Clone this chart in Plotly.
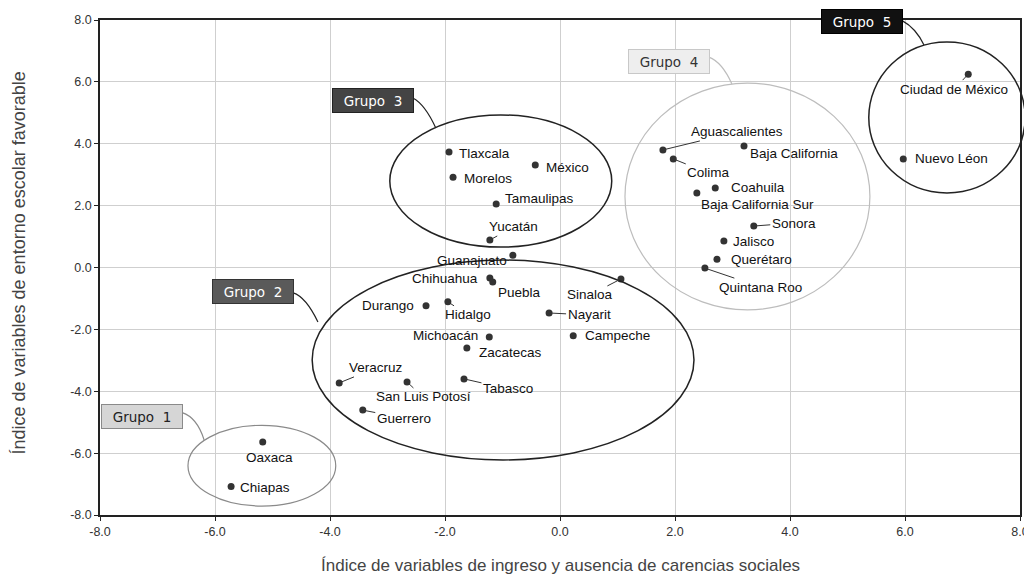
import plotly.graph_objects as go

# ---------------- data ----------------
states = ["Oaxaca", "Chiapas",
          "Veracruz", "San Luis Potosí", "Guerrero", "Durango", "Hidalgo", "Chihuahua",
          "Puebla", "Guanajuato", "Michoacán", "Zacatecas", "Tabasco", "Nayarit",
          "Campeche", "Sinaloa",
          "Tlaxcala", "México", "Morelos", "Tamaulipas", "Yucatán",
          "Aguascalientes", "Baja California", "Colima", "Coahuila", "Baja California Sur",
          "Sonora", "Jalisco", "Querétaro", "Quintana Roo",
          "Ciudad de México", "Nuevo Léon"]
x_ingreso = [-5.17, -5.72,
             -3.84, -2.66, -3.43, -2.33, -1.95, -1.22,
             -1.17, -0.82, -1.23, -1.62, -1.67, -0.19,
             0.23, 1.06,
             -1.93, -0.43, -1.86, -1.11, -1.22,
             1.79, 3.20, 1.97, 2.70, 2.38,
             3.37, 2.85, 2.73, 2.52,
             7.10, 5.97]
y_entorno = [-5.64, -7.08,
             -3.73, -3.70, -4.61, -1.24, -1.11, -0.34,
             -0.47, 0.40, -2.25, -2.60, -3.60, -1.47,
             -2.21, -0.37,
             3.73, 3.31, 2.92, 2.05, 0.89,
             3.80, 3.93, 3.51, 2.57, 2.41,
             1.34, 0.86, 0.27, -0.02,
             6.25, 3.51]

group_names = ["Grupo 1", "Grupo 2", "Grupo 3", "Grupo 4", "Grupo 5"]
# ellipse extents in data units (x0, x1, y0, y1)
group_x0 = [-6.47, -4.31, -2.96, 1.13, 5.37]
group_x1 = [-3.90, 2.33, 0.90, 5.39, 8.09]
group_y0 = [-7.71, -6.22, 0.66, -1.37, 2.41]
group_y1 = [-5.10, 0.24, 4.93, 5.96, 7.29]

tick_vals = [-8, -6, -4, -2, 0, 2, 4, 6, 8]
tick_labels = ["-8.0", "-6.0", "-4.0", "-2.0", "0.0", "2.0", "4.0", "6.0", "8.0"]

x_title = "Índice de variables de ingreso y ausencia de carencias sociales"
y_title = "Índice de variables de entorno escolar favorable"

# ---------------- styling (label placement in pixels) ----------------
# (dx, dy, leader)
label_style = {
    "Oaxaca": (7, 16, False), "Chiapas": (34, 1, False),
    "Veracruz": (37, -15, True), "San Luis Potosí": (16, 15, True),
    "Guerrero": (41, 8, True), "Durango": (-38, 0, False),
    "Hidalgo": (20, 13, True), "Chihuahua": (-45, 0, False),
    "Puebla": (27, 10, False), "Guanajuato": (-41, 5, False),
    "Michoacán": (-44, -2, False), "Zacatecas": (44, 5, False),
    "Tabasco": (44, 10, True), "Nayarit": (40, 2, True),
    "Campeche": (44, 0, False), "Sinaloa": (-31, 16, True),
    "Tlaxcala": (35, 1, False), "México": (32, 2, False),
    "Morelos": (35, 1, False), "Tamaulipas": (43, -6, False),
    "Yucatán": (24, -13, True),
    "Aguascalientes": (74, -18, True), "Baja California": (50, 8, False),
    "Colima": (35, 14, True), "Coahuila": (43, 0, False),
    "Baja California Sur": (61, 12, False), "Sonora": (40, -3, True),
    "Jalisco": (30, 1, False), "Querétaro": (45, 0, False),
    "Quintana Roo": (56, 19, True),
    "Ciudad de México": (-14, 15, True), "Nuevo Léon": (48, 0, False),
}

group_style = [
    dict(cx=-7.27, cy=-4.80, fill="#d6d6d6", border="#8a8a8a", tc="#222", ec="#8a8a8a", ew=1.2,
         conn=[(-6.57, -4.69), (-6.31, -4.85), (-6.19, -5.57)]),
    dict(cx=-5.34, cy=-0.78, fill="#5a5a5a", border="#333", tc="#ffffff", ec="#222", ew=1.5,
         conn=[(-4.64, -0.82), (-4.42, -0.95), (-4.21, -1.76)]),
    dict(cx=-3.25, cy=5.41, fill="#444444", border="#222", tc="#ffffff", ec="#222", ew=1.5,
         conn=[(-2.56, 5.48), (-2.35, 5.28), (-2.16, 4.51)]),
    dict(cx=1.89, cy=6.67, fill="#eeeeee", border="#c8c8c8", tc="#333", ec="#bdbdbd", ew=1.2,
         conn=[(2.59, 6.80), (2.82, 6.64), (2.99, 5.93)]),
    dict(cx=5.25, cy=7.95, fill="#111111", border="#000", tc="#ffffff", ec="#222", ew=1.5,
         conn=[(5.95, 7.98), (6.19, 7.74), (6.33, 7.19)]),
]

XMIN, XMAX, YMIN, YMAX = -8, 8, -8, 8
# page body has an 8px margin: figure is offset by 8px in the window
OFF = 8
W, H = 1032 - OFF, 583 - OFF
ML, MR, MT, MB = 100 - OFF, 12, 20 - OFF, 68
PW, PH = W - ML - MR, H - MT - MB


def px(x):
    return (x - XMIN) / (XMAX - XMIN)


def py(y):
    return (y - YMIN) / (YMAX - YMIN)


FONT = "Liberation Sans, Arial, sans-serif"

fig = go.Figure()
fig.add_trace(go.Scatter(
    x=x_ingreso, y=y_entorno, mode="markers",
    marker=dict(size=7, color="#333333"),
    text=states, hoverinfo="text", showlegend=False, cliponaxis=False,
))

shapes = []
annotations = []

for i, g in enumerate(group_style):
    shapes.append(dict(type="circle", xref="paper", yref="paper",
                       x0=px(group_x0[i]), x1=px(group_x1[i]),
                       y0=py(group_y0[i]), y1=py(group_y1[i]),
                       line=dict(color=g["ec"], width=g["ew"]), layer="above"))
    p = g["conn"]
    path = "M {},{} Q {},{} {},{}".format(px(p[0][0]), py(p[0][1]), px(p[1][0]), py(p[1][1]),
                                           px(p[2][0]), py(p[2][1]))
    shapes.append(dict(type="path", xref="paper", yref="paper", path=path,
                       line=dict(color=g["ec"] if i in (0, 3) else "#222", width=1.2)))
    annotations.append(dict(x=g["cx"], y=g["cy"], xref="x", yref="y",
                            text=group_names[i].replace(" ", "&nbsp;&nbsp;"),
                            showarrow=False, bgcolor=g["fill"], bordercolor=g["border"],
                            borderwidth=1, width=78, height=21,
                            font=dict(family="DejaVu Sans, sans-serif", size=13.5, color=g["tc"])))

for s, xv, yv in zip(states, x_ingreso, y_entorno):
    dx, dy, leader = label_style[s]
    annotations.append(dict(
        x=xv, y=yv, xref="x", yref="y", text=s,
        showarrow=True, ax=dx, ay=dy, arrowhead=0, arrowwidth=1,
        arrowcolor="#333" if leader else "rgba(0,0,0,0)", standoff=2,
        font=dict(family=FONT, size=13.5, color="#111"),
    ))

# axis titles (placed in paper coordinates)
annotations.append(dict(x=0.5, y=(-(565 - OFF - (H - MB))) / PH, xref="paper", yref="paper",
                        text=x_title, showarrow=False, xanchor="center", yanchor="middle",
                        font=dict(family=FONT, size=17, color="#444")))
annotations.append(dict(x=(19 - OFF - ML) / PW, y=(267.5 - 263.5) / PH + 0.5, xref="paper", yref="paper",
                        text=y_title, showarrow=False, xanchor="center", yanchor="middle",
                        textangle=-90, font=dict(family=FONT, size=18, color="#444")))

axis_common = dict(tickvals=tick_vals, ticktext=tick_labels,
                   showgrid=True, gridcolor="#cfcfcf", gridwidth=1, zeroline=False,
                   showline=True, linecolor="#222", linewidth=1.5, mirror=True,
                   ticks="outside", ticklen=4, tickcolor="#222", automargin=False,
                   tickfont=dict(family=FONT, size=12.5, color="#333"))

fig.update_layout(
    width=W, height=H, autosize=False,
    margin=dict(l=ML, r=MR, t=MT, b=MB),
    paper_bgcolor="white", plot_bgcolor="white",
    shapes=shapes, annotations=annotations,
    font=dict(family=FONT, color="#333"),
    xaxis=dict(range=[XMIN, XMAX], **axis_common),
    yaxis=dict(range=[YMIN, YMAX], **axis_common),
)

fig.write_html("out.html")
